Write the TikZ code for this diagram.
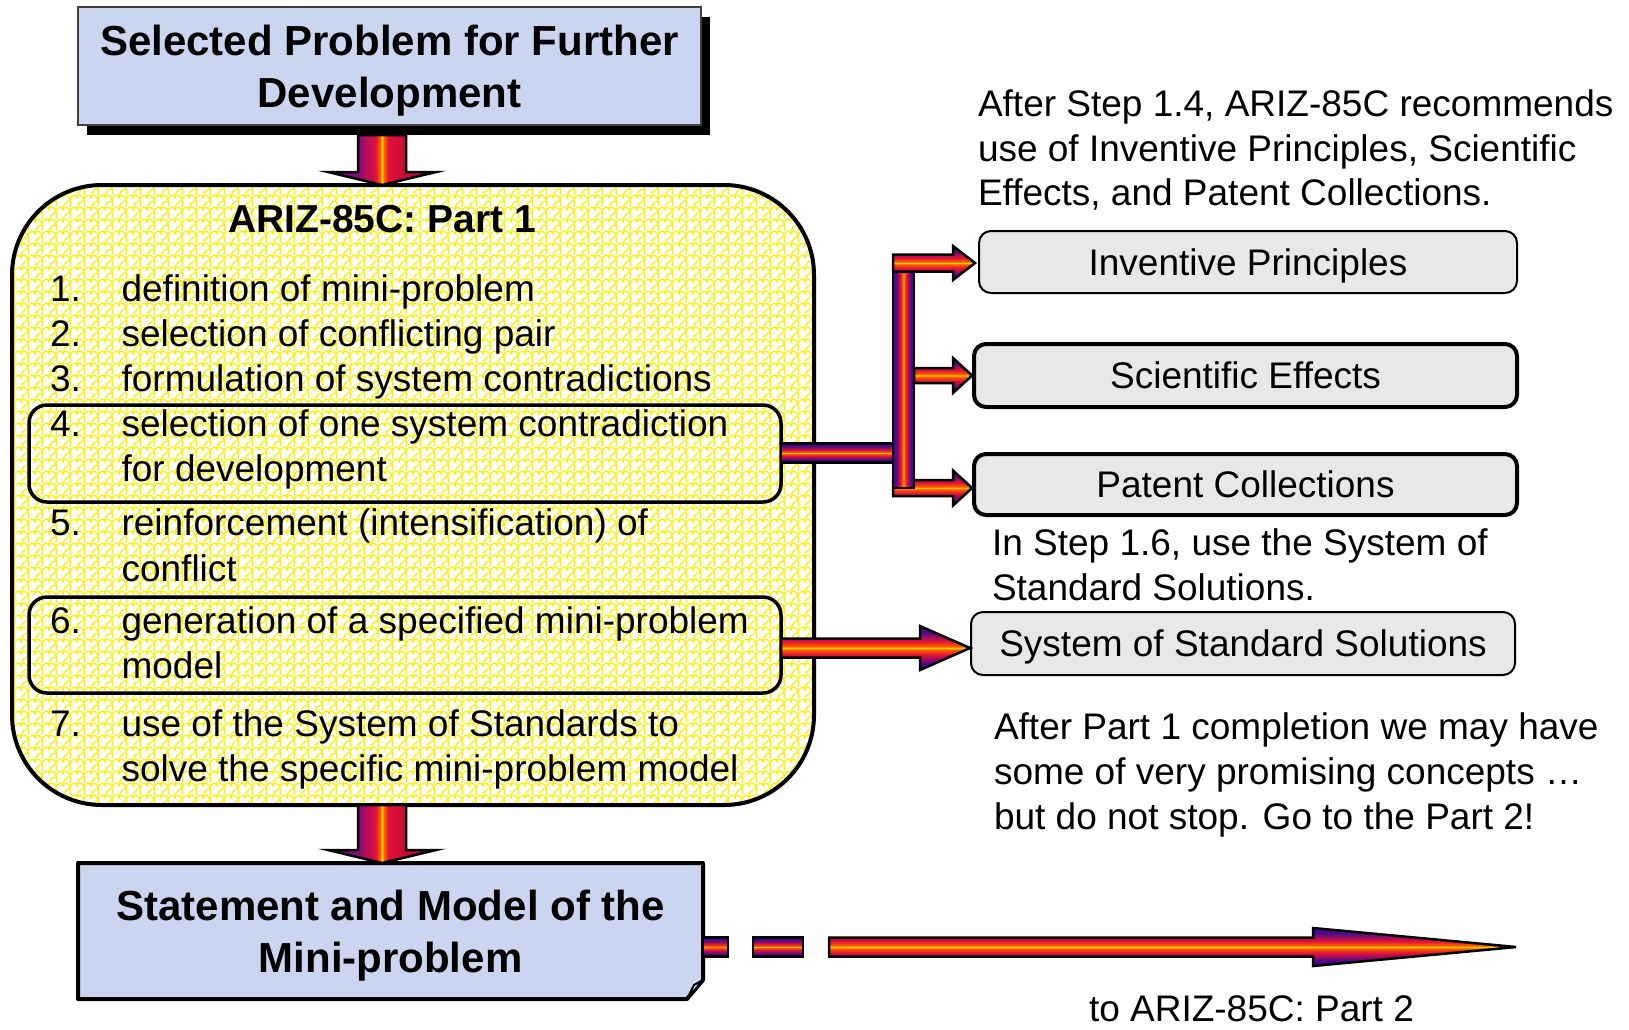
\documentclass[tikz,border=0pt]{standalone}
\usepackage{fontspec}
\setmainfont{Liberation Sans}
\usetikzlibrary{calc,shadows,patterns}

\definecolor{arrpurple}{HTML}{4B0A8C}
\definecolor{arrred}{HTML}{E0103C}
\definecolor{arrorange}{HTML}{FF5A00}
\definecolor{arryellow}{HTML}{FFD400}
\definecolor{arrmagenta}{HTML}{8E0A78}
\definecolor{boxblue}{HTML}{CBD5F0}
\definecolor{boxgray}{HTML}{E8E8E8}
\definecolor{scaleyellow}{HTML}{FFF000}

% ribbon colouring of the block arrows (stripes along the arrow)
\pgfdeclareverticalshading{ribbon}{100bp}{color(0bp)=(arrpurple); color(25bp)=(arrpurple);
  color(32bp)=(arrpurple); color(42bp)=(arrred); color(48bp)=(arrorange); color(50bp)=(arryellow);
  color(52bp)=(arrorange); color(58bp)=(arrred); color(68bp)=(arrpurple); color(75bp)=(arrpurple);
  color(100bp)=(arrpurple)}
\pgfdeclarehorizontalshading{ribbondown}{100bp}{color(0bp)=(arrpurple); color(25bp)=(arrpurple);
  color(39bp)=(arrmagenta); color(47bp)=(arrred); color(49bp)=(arrorange); color(50bp)=(arryellow);
  color(51bp)=(arrorange); color(53bp)=(arrred); color(63bp)=(arrred!85!black); color(75bp)=(arrmagenta);
  color(100bp)=(arrmagenta)}

% yellow fish-scale texture
\pgfdeclarepatternformonly{scales}{\pgfpoint{-1pt}{-1pt}}{\pgfpoint{15pt}{13pt}}{\pgfpoint{14pt}{12pt}}{%
  \pgfsetlinewidth{1.25pt}%
  \pgfpathmoveto{\pgfpoint{0pt}{0pt}}%
  \pgfpathcurveto{\pgfpoint{0pt}{7pt}}{\pgfpoint{7pt}{7pt}}{\pgfpoint{7pt}{3pt}}%
  \pgfpathcurveto{\pgfpoint{7pt}{7pt}}{\pgfpoint{14pt}{7pt}}{\pgfpoint{14pt}{0pt}}%
  \pgfpathmoveto{\pgfpoint{7pt}{3pt}}%
  \pgfpathcurveto{\pgfpoint{7pt}{8pt}}{\pgfpoint{10pt}{12pt}}{\pgfpoint{14pt}{12pt}}%
  \pgfpathmoveto{\pgfpoint{0pt}{12pt}}%
  \pgfpathcurveto{\pgfpoint{2pt}{12pt}}{\pgfpoint{0pt}{6pt}}{\pgfpoint{0pt}{6pt}}%
  \pgfusepath{stroke}}

\pgfdeclarelayer{back}
\pgfsetlayers{back,main}

% right-pointing block arrow: start (x used), tip, half shaft, half head, head length
\newcommand\rightblock[5]{%
  \path[ribbonH] let \p1=(#1), \p2=(#2) in
    (\x1,{\y2+#3}) -- ({\x2-#5},{\y2+#3}) -- ({\x2-#5},{\y2+#4}) -- (\x2,\y2)
    -- ({\x2-#5},{\y2-#4}) -- ({\x2-#5},{\y2-#3}) -- (\x1,{\y2-#3}) -- cycle;}
% downward block arrow: axis (x used), start (y used), tip (y used), start offset
\newcommand\downblock[4]{%
  \path[ribbonD] let \p1=(#1), \p2=(#2), \p3=(#3) in
    ({\x1-24pt},{\y2-#4}) -- ({\x1+24pt},{\y2-#4}) -- ({\x1+24pt},{\y3+13pt})
    -- ({\x1+54pt},{\y3+13pt}) -- (\x1,\y3) -- ({\x1-54pt},{\y3+13pt})
    -- ({\x1-24pt},{\y3+13pt}) -- cycle;}

\begin{document}
\begin{tikzpicture}[x=1pt,y=-1pt,
  every node/.style={inner sep=0pt,outer sep=0pt},
  body/.style={font=\fontsize{37}{45}\selectfont},
  headline/.style={font=\bfseries\fontsize{42}{52}\selectfont,align=center},
  ribbonH/.style={draw=black,line width=2.5pt,shade,shading=ribbon,line join=miter},
  ribbonV/.style={ribbonH,shading angle=90},
  ribbonD/.style={draw=black,line width=2.5pt,shade,shading=ribbondown,line join=miter},
  itemframe/.style={draw,line width=3.5pt,rounded corners=18pt,minimum width=752pt},
  graybox/.style={body,fill=boxgray,draw=black,rounded corners=12pt,text height=26.5pt,text depth=0pt},
  listnum/.style={body,anchor=base west},
  listtxt/.style={body,anchor=base west}]

\useasboundingbox (0,0) rectangle (1629,1029);
\begin{pgfonlayer}{back}
  \fill[white] (0,0) rectangle (1629,1029);
\end{pgfonlayer}

% ARIZ-85C Part 1 panel
\node[draw,line width=4pt,rounded corners=90pt,minimum width=802pt,minimum height=620pt,
      preaction={fill=white},pattern=scales,pattern color=scaleyellow] (ariz) at (413,495) {};
\node[font=\bfseries\fontsize{39}{45}\selectfont] (ariztitle) at (382,219) {ARIZ-85C: Part 1};

\node[itemframe,minimum height=97pt] (box4) at (405,453.5) {};
\node[itemframe,minimum height=96pt] (box6) at (405,645) {};

\node[listnum] (n1) at (50,301) {1.};
\node[listtxt] (t1) at (121.6,301) {definition of mini-problem};
\node[listnum] (n2) at (50,346.5) {2.};
\node[listtxt] (t2) at (121.6,346.5) {selection of conflicting pair};
\node[listnum] (n3) at (50,391.2) {3.};
\node[listtxt] (t3) at (121.6,391.2) {formulation of system contradictions};
\node[listnum] (n4) at (50,436) {4.};
\node[listtxt] (t4a) at (121.6,436) {selection of one system contradiction};
\node[listtxt] (t4b) at (121.6,481) {for development};
\node[listnum] (n5) at (50,535.6) {5.};
\node[listtxt] (t5a) at (121.6,535.6) {reinforcement (intensification) of};
\node[listtxt] (t5b) at (121.6,581.3) {conflict};
\node[listnum] (n6) at (50,633.3) {6.};
\node[listtxt] (t6a) at (121.6,633.3) {generation of a specified mini-problem};
\node[listtxt] (t6b) at (121.6,678) {model};
\node[listnum] (n7) at (50,736.1) {7.};
\node[listtxt] (t7a) at (121.6,736.1) {use of the System of Standards to};
\node[listtxt] (t7b) at (121.6,781.9) {solve the specific mini-problem model};

% top box
\node[fill=boxblue,draw=black!75,line width=1.5pt,
      general shadow={fill=black,shadow xshift=9pt,shadow yshift=-10pt},
      minimum width=623pt,minimum height=118pt] (top) at (389.5,66) {};
\node[headline] (toplabel) at ([yshift=-5pt]top.center) {Selected Problem for Further\\Development};

% bottom box with a curled corner
\node[minimum width=625pt,minimum height=136pt] (bottom) at (390.5,931) {};
\node[headline] (bottomlabel) at ([yshift=-5pt]bottom.center) {Statement and Model of the\\Mini-problem};
\begin{pgfonlayer}{back}
  \filldraw[fill=boxblue,line width=4pt,line join=round]
    (bottom.north west) -- (bottom.north east) -- ([yshift=19pt]bottom.south east)
    -- ([xshift=-16pt]bottom.south east) -- (bottom.south west) -- cycle;
\end{pgfonlayer}
\filldraw[fill=white,line width=2pt,line join=round]
  ([yshift=19pt]bottom.south east) -- ([xshift=-9pt,yshift=14pt]bottom.south east)
  -- ([xshift=-16pt]bottom.south east) -- cycle;

% right-hand boxes
\node[graybox,line width=2pt,minimum width=538pt,minimum height=62pt] (inv) at (1248,262) {Inventive Principles};
\node[graybox,line width=4pt,minimum width=543pt,minimum height=63pt] (sci) at (1245.5,375.5) {Scientific Effects};
\node[graybox,line width=4pt,minimum width=543pt,minimum height=61pt] (pat) at (1245.5,484.5) {Patent Collections};
\node[graybox,line width=2pt,minimum width=544pt,minimum height=63pt] (sss) at (1243,643.5) {System of Standard Solutions};

% notes
\node[body,anchor=base west] (note1a) at (978,116) {After Step 1.4, ARIZ-85C recommends};
\node[body,anchor=base west] (note1b) at (978,161) {use of Inventive Principles, Scientific};
\node[body,anchor=base west] (note1c) at (978,205) {Effects, and Patent Collections.};
\node[body,anchor=base west] (note2a) at (992,555) {In Step 1.6, use the System of};
\node[body,anchor=base west] (note2b) at (992,600) {Standard Solutions.};
\node[body,anchor=base west] (note3a) at (994,739) {After Part 1 completion we may have};
\node[body,anchor=base west] (note3b) at (994,784) {some of very promising concepts …};
\node[body,anchor=base west] (note3c) at (994,829) {but do not stop. Go to the Part 2!};
\node[body,anchor=base west] (part2lbl) at (1089,1021) {to ARIZ-85C: Part 2};

% vertical flow arrows
\coordinate (axis) at (382,0);
\downblock{axis}{top.south}{ariz.north}{10pt}
\downblock{axis}{ariz.south}{bottom.north}{0pt}

% fork from step 4 to the three collections
\coordinate (forktop) at (903.5,256);
\coordinate (forkbot) at (903.5,488);
\rightblock{[xshift=-10.5pt]forkbot}{[xshift=-2pt,yshift=-3.5pt]pat.west}{8pt}{17.5pt}{19pt}
\path[ribbonV] ([xshift=-10.5pt]forktop) rectangle ([xshift=10.5pt]forkbot);
\path[ribbonH] let \p1=(box4.east), \p2=(forktop) in
  (\x1,{\y1+10pt}) rectangle ({\x2-10.5pt},{\y1-9pt});
\rightblock{[xshift=-10.5pt]forktop}{[xshift=-4pt,yshift=-1pt]inv.west}{8.5pt}{17pt}{22pt}
\rightblock{[xshift=10.5pt]forktop}{[xshift=-2pt]sci.west}{7.5pt}{17.5pt}{19pt}

% step 6 to the standard solutions
\rightblock{box6.east}{[xshift=-1pt,yshift=-4.5pt]sss.west}{9.5pt}{22pt}{50pt}

% dashed lead-out to part 2
\coordinate (part2) at (1516,947);
\path[ribbonH] let \p1=(bottom.east), \p2=(part2) in
  (\x1,{\y2+9.5pt}) rectangle ({\x1+25pt},{\y2-9.5pt});
\path[ribbonH] let \p1=(bottom.east), \p2=(part2) in
  ({\x1+50pt},{\y2+9.5pt}) rectangle ({\x1+100pt},{\y2-9.5pt});
\rightblock{[xshift=126pt]bottom.east}{part2}{9.5pt}{19pt}{203pt}

\end{tikzpicture}
\end{document}
